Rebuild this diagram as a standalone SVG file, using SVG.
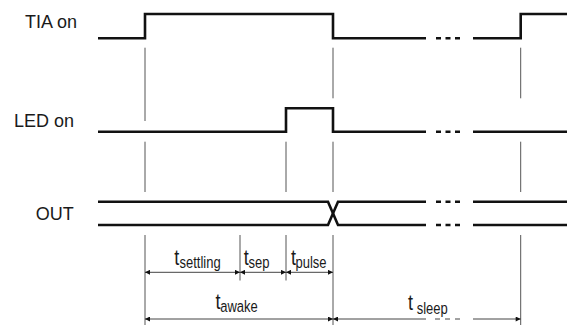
<svg xmlns="http://www.w3.org/2000/svg" width="567" height="325" viewBox="0 0 567 325">
<style>
.lbl{font-family:"Liberation Sans",Arial,sans-serif;font-size:18px;fill:#1a1a1a}
.t{font-family:"Liberation Sans",Arial,sans-serif;font-size:18px;fill:#1a1a1a}
.sub{font-family:"Liberation Sans",Arial,sans-serif;font-size:13px;fill:#1a1a1a}
.sig{fill:none;stroke:#111;stroke-width:2.6;stroke-linejoin:miter}
.dots{fill:none;stroke:#111;stroke-width:2.6;stroke-dasharray:5 4.5}
.guide{fill:none;stroke:#555;stroke-width:1}
.dim{fill:none;stroke:#444;stroke-width:1;marker-start:url(#ah);marker-end:url(#ah)}
.dimd{fill:none;stroke:#444;stroke-width:1;stroke-dasharray:5 5}
</style>
<defs>
<marker id="ah" viewBox="0 0 6 6" refX="6" refY="3" markerWidth="6" markerHeight="5" markerUnits="userSpaceOnUse" orient="auto-start-reverse">
<path d="M0,0 L6,3 L0,6 z" fill="#111"/>
</marker>
</defs>
<rect width="567" height="325" fill="#fff"/>
<g id="labels">
<text class="lbl" x="25" y="28.3">TIA on</text>
<text class="lbl" x="14" y="126.7">LED on</text>
<text class="lbl" x="35.7" y="220">OUT</text>
</g>
<g id="guides">
<path class="guide" d="M145,47.7V121 M145,141.7V192 M145,235V325"/>
<path class="guide" d="M240,235V280.5"/>
<path class="guide" d="M286,141.7V192 M286,235V280.5"/>
<path class="guide" d="M333,47.7V98.3 M333,141.7V192 M333,235V325"/>
<path class="guide" d="M520.7,47.7V98.3 M520.7,141.7V192 M520.7,235V325"/>
</g>
<g id="sig-tia">
<path class="sig" d="M98,38.3H145V14H333V38.3H426"/>
<path class="dots" d="M436,38.3H460"/>
<path class="sig" d="M473,38.3H520.7V14H567"/>
</g>
<g id="sig-led">
<path class="sig" d="M98,131.7H286V108.3H333V131.7H426"/>
<path class="dots" d="M436,131.7H460"/>
<path class="sig" d="M473,131.7H567"/>
</g>
<g id="sig-out">
<path class="sig" d="M98,201.7H328L338,225H426"/>
<path class="sig" d="M98,225H328L338,201.7H426"/>
<path class="dots" d="M436,201.7H460 M436,225H460"/>
<path class="sig" d="M473,201.7H567 M473,225H567"/>
</g>
<g id="connectors">
<line class="dim" x1="145" y1="272.3" x2="240" y2="272.3"/>
<line class="dim" x1="240" y1="272.3" x2="286" y2="272.3"/>
<line class="dim" x1="286" y1="272.3" x2="333" y2="272.3"/>
<line class="dim" x1="145" y1="319" x2="333" y2="319"/>
<path fill="none" stroke="#444" stroke-width="1" marker-start="url(#ah)" d="M333,319H426"/>
<path class="dimd" d="M435,319H460"/>
<path fill="none" stroke="#444" stroke-width="1" marker-end="url(#ah)" d="M473,319H520.7"/>
</g>
<g id="timing-labels">
<text class="t" transform="translate(174.3,265) scale(1,1.25)">t</text>
<text class="sub" transform="translate(179.5,267.5) scale(1,1.3)">settling</text>
<text class="t" transform="translate(243.8,265) scale(1,1.25)">t</text>
<text class="sub" transform="translate(248.5,267.5) scale(1,1.3)">sep</text>
<text class="t" transform="translate(291,265) scale(1,1.25)">t</text>
<text class="sub" transform="translate(295.5,267.5) scale(1,1.3)">pulse</text>
<text class="t" transform="translate(215.5,308.5) scale(1,1.25)">t</text>
<text class="sub" transform="translate(220.2,311.5) scale(1,1.3)">awake</text>
<text class="t" transform="translate(408,310) scale(1,1.25)">t</text>
<text class="sub" transform="translate(416.7,314) scale(1,1.3)">sleep</text>
</g>
</svg>
